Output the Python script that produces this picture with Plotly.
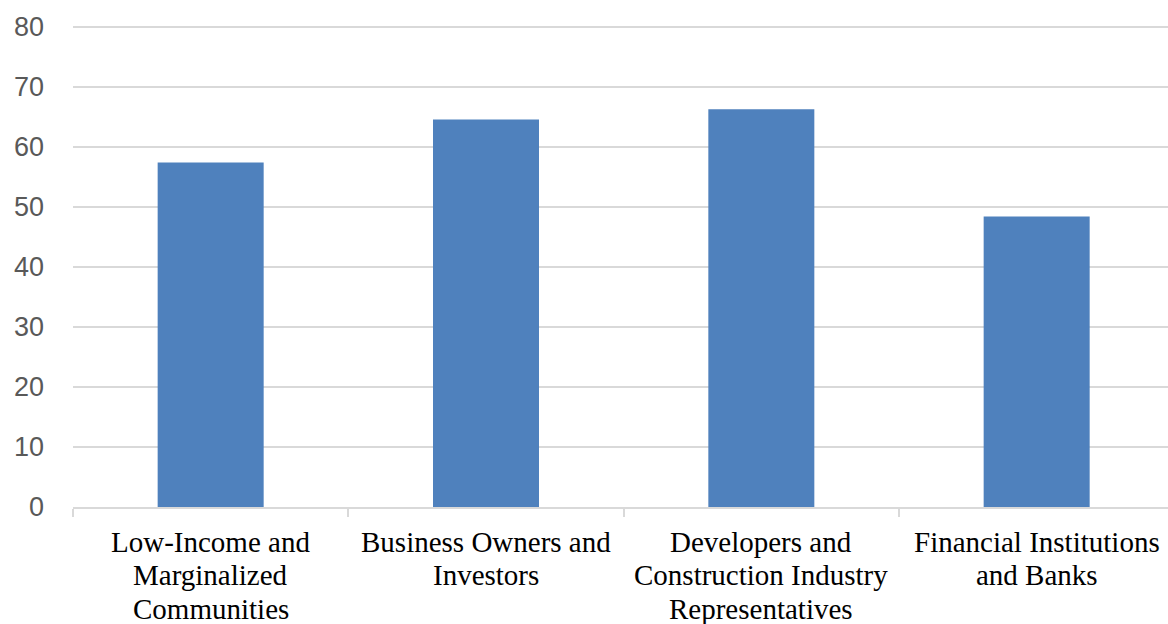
import plotly.graph_objects as go

categories = [
    "Low-Income and<br>Marginalized<br>Communities",
    "Business Owners and<br>Investors",
    "Developers and<br>Construction Industry<br>Representatives",
    "Financial Institutions<br>and Banks",
]
values = [57.4, 64.6, 66.3, 48.4]
y_ticks = [0, 10, 20, 30, 40, 50, 60, 70, 80]

fig = go.Figure(
    go.Bar(
        x=categories,
        y=values,
        marker=dict(color="#4f81bd", line=dict(width=0)),
        width=0.385,
    )
)

# Category labels are set line by line so the serif text keeps a tight leading.
label_font = dict(family="Liberation Serif, Times New Roman, serif", size=29, color="#000000")
first_line_offset = 34.5
line_step = 33.5
for cat in categories:
    for i, line in enumerate(cat.split("<br>")):
        fig.add_annotation(
            x=cat,
            xref="x",
            y=0,
            yref="paper",
            text=line,
            showarrow=False,
            xanchor="center",
            yanchor="middle",
            yshift=-(first_line_offset + i * line_step),
            font=label_font,
        )

fig.update_layout(
    width=1168,
    height=624,
    margin=dict(l=73, r=0, t=21, b=117),
    paper_bgcolor="white",
    plot_bgcolor="white",
    showlegend=False,
)

fig.update_yaxes(
    range=[0, 81],
    tickvals=y_ticks,
    showgrid=True,
    gridcolor="#d9d9d9",
    gridwidth=1.5,
    zeroline=False,
    showline=False,
    ticks="",
    ticklabelstandoff=28,
    automargin=False,
    tickfont=dict(family="Liberation Sans, Arial, sans-serif", size=27, color="#595959"),
)

fig.update_xaxes(
    type="category",
    range=[-0.5, 3.477],
    showline=True,
    linecolor="#d9d9d9",
    linewidth=1.5,
    ticks="outside",
    tickson="boundaries",
    ticklen=8,
    tickcolor="#d9d9d9",
    tickwidth=1.5,
    showgrid=False,
    showticklabels=False,
    automargin=False,
)

fig.write_html("out.html")
